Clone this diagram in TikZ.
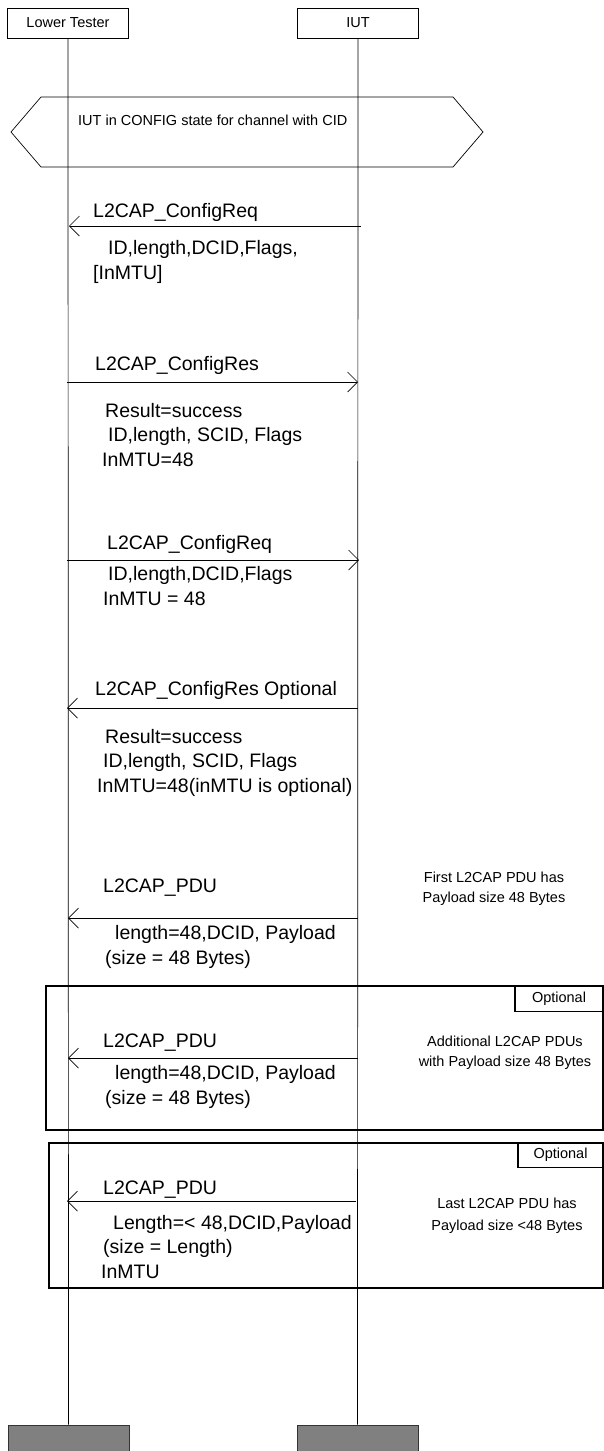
\documentclass[tikz,border=0pt]{standalone}
\usepackage{fontspec}
\setmainfont{Liberation Sans}
\usetikzlibrary{arrows.meta}

\begin{document}
\begin{tikzpicture}[x=1pt,y=-1pt,
    >={Straight Barb[length=10pt,width=20pt]},
    actor/.style={
% The shape:
rectangle,
% The size:
minimum width=121pt,
minimum height=30pt,
% The border:
line width=0.7pt, draw,
font=\fontsize{14.5}{17}\selectfont,
},
    actorend/.style={
% The shape:
rectangle,
% The size:
minimum width=121pt,
minimum height=30pt,
% The border:
line width=0.8pt, draw=black!80, fill=gray,
},
    life/.style={line width=0.7pt},
    msgline/.style={line width=0.7pt},
    msg/.style={anchor=base west, inner sep=0pt, align=left,
      font=\fontsize{19.5}{24.5}\selectfont},
    note/.style={inner sep=0pt, align=center,
      font=\fontsize{14.5}{20}\selectfont},
    frame/.style={draw, line width=1.6pt, anchor=north west},
    tag/.style={draw, line width=1.2pt, anchor=north east,
      font=\fontsize{14.5}{17}\selectfont},
]
  \useasboundingbox (0,0) rectangle (604,1451);

  % instances
  \node[actor] (LT) at (68,23) {Lower Tester};
  \node[actor] (IUT) at (358,23) {IUT};
  \node[actorend] (LTend) at (68.5,1440) {};
  \node[actorend] (IUTend) at (357.5,1440) {};
  \draw[life] (LT) -- (LTend);
  \draw[life] (IUT) -- (IUTend);

  % condition
  \draw[life] (11,132) -- (41,97) -- (453,97) -- (483,132) -- (453,167) -- (41,167) -- cycle;
  \node[anchor=base west, inner sep=0pt, font=\fontsize{14.5}{17}\selectfont]
    (cfg) at (78,125) {IUT in CONFIG state for channel with CID};

  % optional frames
  \node[frame, minimum width=557pt, minimum height=144pt] (opt1) at (45,985) {};
  \node[tag, minimum width=88pt, minimum height=26pt] (opt1tag) at (opt1.north east) {Optional};
  \node[frame, minimum width=554pt, minimum height=145pt] (opt2) at (48,1142) {};
  \node[tag, minimum width=85pt, minimum height=25pt] (opt2tag) at (opt2.north east) {Optional};

  % messages (parameter nodes sit on their last line)
  \coordinate (m1L) at (69,226);   \coordinate (m1R) at (361,226);
  \coordinate (m2L) at (67,382);   \coordinate (m2R) at (358,382);
  \coordinate (m3L) at (67,560);   \coordinate (m3R) at (359,560);
  \coordinate (m4L) at (67,708);   \coordinate (m4R) at (358,708);
  \coordinate (m5L) at (68,918);   \coordinate (m5R) at (358,918);
  \coordinate (m6L) at (68,1058);  \coordinate (m6R) at (358,1058);
  \coordinate (m7L) at (67,1201);  \coordinate (m7R) at (356,1201);

  \draw[msgline,<-] (m1L) -- (m1R);
  \node[msg] (req1) at (93,217) {L2CAP\_ConfigReq};
  \node[msg] (req1p) at (93,279) {\hspace*{15pt}ID,length,DCID,Flags,\\{}[InMTU]};

  \draw[msgline,->] (m2L) -- (m2R);
  \node[msg] (res1) at (95,370) {L2CAP\_ConfigRes};
  \node[msg] (res1p) at (102,466) {\hspace*{3pt}Result=success\\\hspace*{6pt}ID,length, SCID, Flags\\InMTU=48};

  \draw[msgline,->] (m3L) -- (m3R);
  \node[msg] (req2) at (107,549) {L2CAP\_ConfigReq};
  \node[msg] (req2p) at (103,605) {\hspace*{5pt}ID,length,DCID,Flags\\InMTU = 48};

  \draw[msgline,<-] (m4L) -- (m4R);
  \node[msg] (res2) at (95,695) {L2CAP\_ConfigRes Optional};
  \node[msg] (res2p) at (97,792) {\hspace*{8pt}Result=success\\\hspace*{6pt}ID,length, SCID, Flags\\InMTU=48(inMTU is optional)};

  \draw[msgline,<-] (m5L) -- (m5R);
  \node[msg] (pdu1) at (103,892) {L2CAP\_PDU};
  \node[msg] (pdu1p) at (105,964) {\hspace*{10pt}length=48,DCID, Payload\\(size = 48 Bytes)};
  \node[note] (n1) at (494,889) {First L2CAP PDU has\\Payload size 48 Bytes};

  \draw[msgline,<-] (m6L) -- (m6R);
  \node[msg] (pdu2) at (103,1047) {L2CAP\_PDU};
  \node[msg] (pdu2p) at (105,1104) {\hspace*{10pt}length=48,DCID, Payload\\(size = 48 Bytes)};
  \node[note] (n2) at (505,1053) {Additional L2CAP PDUs\\with Payload size 48 Bytes};

  \draw[msgline,<-] (m7L) -- (m7R);
  \node[msg] (pdu3) at (103,1194) {L2CAP\_PDU};
  \node[msg] (pdu3p) at (101,1278) {\hspace*{12pt}Length=< 48,DCID,Payload\\\hspace*{2pt}(size = Length)\\InMTU};
  \node[note] (n3) at (507,1216) {Last L2CAP PDU has\\[2pt]Payload size <48 Bytes};

\end{tikzpicture}
\end{document}
